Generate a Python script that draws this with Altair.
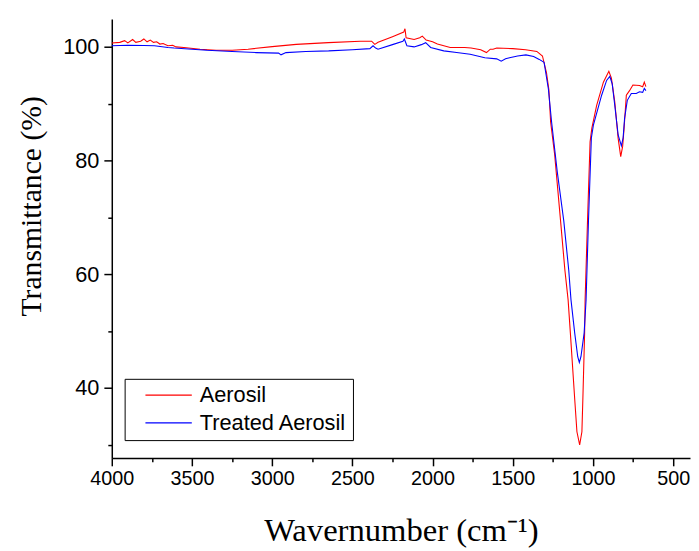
import altair as alt
import pandas as pd

series_names = ["Aerosil", "Treated Aerosil"]
series_colors = ["#ff0000", "#0000ff"]

aerosil_wn = [4000, 3950, 3920, 3900, 3870, 3850, 3820, 3800, 3780, 3760, 3740, 3720, 3700, 3680,
              3650, 3620, 3600, 3550, 3450, 3350, 3250, 3150, 3000, 2850, 2650, 2450, 2380, 2360,
              2340, 2250, 2180, 2172, 2165, 2115, 2080, 2064, 2040, 2000, 1970, 1890, 1800, 1760,
              1700, 1664, 1640, 1623, 1600, 1500, 1420, 1350, 1315, 1290, 1275, 1264, 1239, 1202,
              1175, 1155, 1141, 1114, 1100, 1083, 1069, 1063, 1052, 1049, 1034, 1018, 1007, 977,
              935, 901, 885, 864, 843, 827, 815, 806, 792, 772, 751, 710, 690, 680, 670]
aerosil_t = [100.7, 100.8, 101.1, 100.7, 101.3, 100.8, 101.0, 101.4, 100.9, 101.2, 100.8, 100.9, 100.5, 100.6,
             100.2, 100.3, 100.0, 99.9, 99.6, 99.4, 99.4, 99.6, 100.05, 100.45, 100.75, 101.0, 101.0, 100.45,
             100.8, 101.8, 102.6, 103.2, 101.6, 101.3, 101.6, 101.9, 101.2, 100.9, 100.5, 99.9, 99.9, 99.8,
             99.5, 99.0, 99.6, 99.6, 99.8, 99.7, 99.5, 99.2, 98.4, 95.5, 92.5, 86.8, 81.1, 69.4,
             60.7, 55.5, 49.7, 38.1, 32.3, 30.0, 32.3, 38.1, 49.7, 55.5, 69.4, 83.3, 85.7, 89.7,
             93.8, 95.7, 94.5, 90.3, 83.9, 80.7, 82.5, 85.7, 91.5, 92.3, 93.3, 93.2, 93.0, 93.8, 93.0]

treated_wn = [4000, 3900, 3800, 3734, 3650, 3611, 3500, 3406, 3250, 3099, 2960, 2945, 2914, 2791,
              2648, 2500, 2391, 2371, 2355, 2340, 2250, 2185, 2176, 2160, 2115, 2070, 2043, 2012,
              1930, 1850, 1766, 1674, 1600, 1572, 1545, 1520, 1470, 1418, 1370, 1335, 1305, 1278,
              1258, 1223, 1182, 1151, 1137, 1114, 1095, 1085, 1075, 1055, 1043, 1028, 1010, 997,
              946, 915, 895, 880, 864, 843, 823, 812, 803, 786, 761, 730, 710, 690, 680, 670]
treated_t = [100.2, 100.3, 100.25, 100.2, 99.9, 99.8, 99.6, 99.4, 99.2, 99.0, 98.9, 98.6, 99.0, 99.2,
             99.3, 99.5, 99.7, 100.2, 99.8, 99.6, 100.4, 101.0, 101.4, 100.2, 100.0, 100.4, 100.75, 99.9,
             99.3, 99.0, 98.7, 98.1, 97.9, 97.5, 97.9, 98.1, 98.4, 98.6, 98.3, 97.8, 97.3, 92.6,
             86.8, 78.1, 69.4, 60.7, 55.5, 49.7, 45.5, 44.5, 45.5, 49.7, 55.5, 69.4, 84.0, 86.3,
             91.5, 94.1, 94.8, 93.5, 89.7, 84.5, 82.6, 84.0, 87.4, 90.6, 91.8, 91.8, 92.1, 92.0, 92.7, 92.3]

x_ticks = list(range(500, 4001, 250))
y_ticks = list(range(30, 101, 10))

df = pd.concat([
    pd.DataFrame({"wn": aerosil_wn, "t": aerosil_t, "series": series_names[0]}),
    pd.DataFrame({"wn": treated_wn, "t": treated_t, "series": series_names[1]}),
])

x_axis = alt.Axis(
    values=x_ticks, format="d", labelFlush=False, labelFontSize=20,
    labelExpr="datum.value % 500 === 0 ? datum.label : ''",
    tickSize={"condition": {"test": "datum.value % 500 === 0", "value": 8}, "value": 4},
    title="Wavernumber (cm⁻¹)", titleY=58, titleBaseline="top", labelPadding=3,
    titleFontSize=33,
)
y_axis = alt.Axis(
    values=y_ticks, labelFlush=False, labelFontSize=22,
    labelExpr="datum.value % 20 === 0 ? datum.label : ''",
    tickSize={"condition": {"test": "datum.value % 20 === 0", "value": 8}, "value": 4},
    title="Transmittance (%)", titleX=-66, titleY=189, titleAngle=270, titleBaseline="bottom",
    labelPadding=5, titleFontSize=30,
)

chart = alt.Chart(df).mark_line(strokeWidth=1.1, clip=True).encode(
    x=alt.X("wn:Q", scale=alt.Scale(domain=[395, 4000], reverse=True, nice=False, zero=False), axis=x_axis),
    y=alt.Y("t:Q", scale=alt.Scale(domain=[27.7, 104.9], nice=False, zero=False), axis=y_axis),
    color=alt.Color("series:N", scale=alt.Scale(domain=series_names, range=series_colors),
                    legend=alt.Legend(title=None, orient="none", legendX=13, legendY=364,
                                      strokeColor="black", fillColor="white", padding=6,
                                      symbolOffset=14, symbolType="stroke", symbolSize=2200,
                                      symbolStrokeWidth=1.2, labelFont="Liberation Sans",
                                      labelFontSize=22, labelOffset=7, rowPadding=5, clipHeight=21,
                                      labelColor="black", cornerRadius=0)),
).properties(
    width=585, height=444,
    background="white",
    autosize=alt.AutoSizeParams(type="none"),
    padding={"left": 105, "top": 8, "right": 1, "bottom": 90},
).configure_view(stroke=None).configure_axis(
    grid=False, domainColor="black", domainWidth=1.5, tickColor="black", tickWidth=1.5,
    labelFont="Liberation Sans", labelColor="black",
    titleFont="Liberation Serif", titleFontWeight="normal", titleColor="black",
)

chart.save("out.html", embed_options={"renderer": "svg", "actions": False})
